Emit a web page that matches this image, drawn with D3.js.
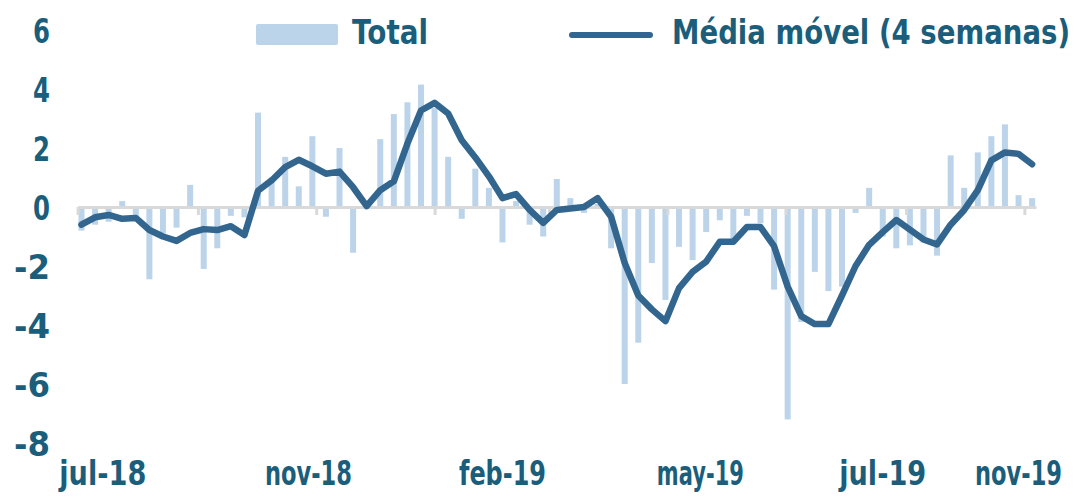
<!DOCTYPE html>
<html>
<head>
<meta charset="utf-8">
<script src="https://cdn.jsdelivr.net/npm/d3@7"></script>
<style>
  body { margin: 0; background: #fff; }
  svg text { font-family: "DejaVu Sans", sans-serif; font-weight: bold; fill: #1b5e7b; }
</style>
</head>
<body>
<div id="chart"></div>
<script>
// weekly observations
const weeks = [
  '2018-07-03','2018-07-10','2018-07-17','2018-07-24','2018-07-31',
  '2018-08-07','2018-08-14','2018-08-21','2018-08-28',
  '2018-09-04','2018-09-11','2018-09-18','2018-09-25',
  '2018-10-02','2018-10-09','2018-10-16','2018-10-23','2018-10-30',
  '2018-11-06','2018-11-13','2018-11-20','2018-11-27',
  '2018-12-04','2018-12-11','2018-12-18','2018-12-25',
  '2019-01-01','2019-01-08','2019-01-15','2019-01-22','2019-01-29',
  '2019-02-05','2019-02-12','2019-02-19','2019-02-26',
  '2019-03-05','2019-03-12','2019-03-19','2019-03-26',
  '2019-04-02','2019-04-09','2019-04-16','2019-04-23','2019-04-30',
  '2019-05-07','2019-05-14','2019-05-21','2019-05-28',
  '2019-06-04','2019-06-11','2019-06-18','2019-06-25',
  '2019-07-02','2019-07-09','2019-07-16','2019-07-23','2019-07-30',
  '2019-08-06','2019-08-13','2019-08-20','2019-08-27',
  '2019-09-03','2019-09-10','2019-09-17','2019-09-24',
  '2019-10-01','2019-10-08','2019-10-15','2019-10-22','2019-10-29',
  '2019-11-05'
];

const total = [
  -0.8, -0.6, -0.5, 0.2, -0.3,
  -2.45, -0.9, -0.7, 0.75,
  -2.1, -1.4, -0.3, -0.35,
  3.2, 1.0, 1.7, 0.7, 2.4,
  -0.33, 2.0, -1.55, 0.2,
  2.3, 3.15, 3.55, 4.15,
  3.35, 1.7, -0.4, 1.3, 0.65,
  -1.2, 0.2, -0.6, -1.0,
  0.95, 0.3, -0.2, 0.1,
  -1.4, -6.0, -4.6, -1.9, -3.15,
  -1.35, -1.8, -0.85, -0.45,
  -1.1, -0.3, -0.55, -2.8,
  -7.2, -3.9, -2.2, -2.85, -2.7,
  -0.2, 0.65, -1.0, -1.4,
  -1.3, -1.2, -1.65, 1.75,
  0.65, 1.85, 2.4, 2.8, 0.4,
  0.3
];

const movingAvg = [
  -0.6, -0.35, -0.27, -0.4, -0.37,
  -0.78, -1.0, -1.15, -0.88,
  -0.75, -0.78, -0.65, -0.95,
  0.55, 0.9, 1.35, 1.6, 1.38,
  1.13, 1.2, 0.67, 0.03,
  0.57, 0.87, 2.15, 3.27,
  3.53, 3.17, 2.26, 1.68, 1.04,
  0.3, 0.44, -0.1, -0.54,
  -0.1, -0.05, 0.0, 0.3,
  -0.33, -1.9, -3.0, -3.47, -3.87,
  -2.75, -2.2, -1.85, -1.18,
  -1.18, -0.68, -0.68, -1.33,
  -2.7, -3.7, -3.97, -3.97, -3.0,
  -2.0, -1.28, -0.85, -0.44,
  -0.77, -1.1, -1.27, -0.6,
  -0.1, 0.57, 1.58, 1.85, 1.8,
  1.45
];

const yTicks = [-8, -6, -4, -2, 0, 2, 4, 6];
const xLabels = [
  ['2018-07-14', 'jul-18'],
  ['2018-10-28', 'nov-18'],
  ['2019-02-05', 'feb-19'],
  ['2019-05-18', 'may-19'],
  ['2019-08-20', 'jul-19'],
  ['2019-10-29', 'nov-19']
];
const seriesNames = ['Total', 'Média móvel (4 semanas)'];

const width = 1078, height = 497;
const barColor = '#bcd4ea', lineColor = '#33668f', axisColor = '#d9d9d9';
const fontSize = '34px';

// the original font is a narrow one, so squeeze every label to its width
const narrow = (sel, w) => sel
  .attr('textLength', w)
  .attr('lengthAdjust', 'spacingAndGlyphs');

const parse = d3.timeParse('%Y-%m-%d');
const data = weeks.map((w, i) => ({ date: parse(w), total: total[i], avg: movingAvg[i] }));

const svg = d3.select('#chart').append('svg')
  .attr('width', width)
  .attr('height', height);

const x = d3.scaleTime()
  .domain([parse('2018-07-01'), parse('2019-11-07')])
  .range([77.6, 1036]);

const y = d3.scaleLinear()
  .domain([-8, 6])
  .range([443, 30]);

// bars
svg.append('g')
  .selectAll('rect')
  .data(data)
  .enter()
  .append('rect')
  .attr('x', d => x(d.date) - 3)
  .attr('width', 6)
  .attr('y', d => y(Math.max(0, d.total)))
  .attr('height', d => Math.abs(y(d.total) - y(0)))
  .attr('fill', barColor);

// zero axis with 2-month ticks
const xAxis = d3.axisBottom(x)
  .tickValues(d3.timeMonth.every(2).range(parse('2018-07-01'), parse('2019-11-02')))
  .tickFormat('')
  .tickSize(8)
  .tickSizeOuter(0);

const gx = svg.append('g')
  .attr('transform', `translate(0,${y(0)})`)
  .call(xAxis);
gx.select('.domain').attr('stroke', axisColor).attr('stroke-width', 3);
gx.selectAll('.tick line').attr('stroke', axisColor).attr('stroke-width', 3);

// moving average line
const line = d3.line()
  .x(d => x(d.date))
  .y(d => y(d.avg));

svg.append('path')
  .datum(data)
  .attr('d', line)
  .attr('fill', 'none')
  .attr('stroke', lineColor)
  .attr('stroke-width', 6.5)
  .attr('stroke-linejoin', 'round')
  .attr('stroke-linecap', 'round');

// y labels
const yAxis = d3.axisLeft(y)
  .tickValues(yTicks)
  .tickFormat(d => String(d))
  .tickSize(0)
  .tickPadding(0);

const gy = svg.append('g')
  .attr('transform', 'translate(50,0)')
  .call(yAxis);
gy.select('.domain').remove();
gy.selectAll('text')
  .attr('fill', null)
  .style('font-size', fontSize)
  .attr('dy', '0.36em')
  .each(function (d) { narrow(d3.select(this), d < 0 ? 36 : 17); });

// x labels
svg.append('g')
  .selectAll('text')
  .data(xLabels)
  .enter()
  .append('text')
  .attr('x', d => x(parse(d[0])))
  .attr('y', 485)
  .attr('text-anchor', 'middle')
  .style('font-size', fontSize)
  .text(d => d[1])
  .each(function (d) { narrow(d3.select(this), d[1].length * 14.5); });

// legend
const legend = svg.append('g');
legend.append('rect')
  .attr('x', 256).attr('y', 24)
  .attr('width', 82).attr('height', 21)
  .attr('rx', 2)
  .attr('fill', barColor);
legend.append('text')
  .attr('x', 352).attr('y', 44)
  .style('font-size', fontSize)
  .text(seriesNames[0])
  .call(narrow, 76);
legend.append('line')
  .attr('x1', 572).attr('x2', 650)
  .attr('y1', 35).attr('y2', 35)
  .attr('stroke', lineColor)
  .attr('stroke-width', 6)
  .attr('stroke-linecap', 'round');
legend.append('text')
  .attr('x', 672).attr('y', 44)
  .style('font-size', fontSize)
  .text(seriesNames[1])
  .call(narrow, 398);
</script>
</body>
</html>
